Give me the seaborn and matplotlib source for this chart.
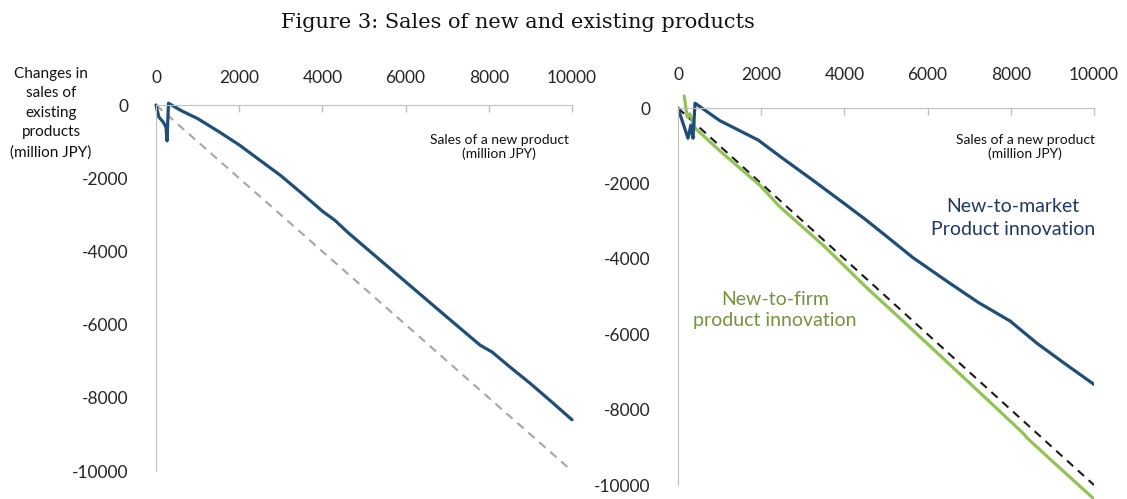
import numpy as np
import pandas as pd
import matplotlib
matplotlib.use("Agg")
import matplotlib.pyplot as plt
import seaborn as sns

# ---------------- data ----------------
# Left panel: all product innovation
left_x = [0, 70, 170, 240, 265, 300, 600, 1000, 1500, 2000, 2500, 3000, 3460,
          4000, 4300, 4600, 5000, 6000, 7000, 7790, 8080, 8500, 9000, 9500, 10000]
left_y = [0, -330, -460, -600, -980, 50, -150, -370, -720, -1090, -1510, -1930, -2370,
          -2900, -3150, -3470, -3860, -4830, -5800, -6560, -6750, -7150, -7610, -8100, -8600]

# Right panel: new-to-market product innovation
market_x = [0, 240, 310, 360, 410, 1000, 1930, 2500, 3250, 3970, 4500, 5000, 5650,
            6500, 7210, 8000, 8050, 8630, 9300, 10000]
market_y = [0, -800, -450, -800, 130, -330, -850, -1320, -1920, -2510, -2950, -3390, -3970,
            -4620, -5150, -5660, -5710, -6240, -6780, -7330]

# Right panel: new-to-firm product innovation
firm_x = [150, 220, 280, 340, 410, 1000, 1970, 2450, 3500, 4540, 5340, 6500, 7500,
          8290, 8400, 9000, 10000]
firm_y = [320, -240, -150, -320, -530, -1130, -2050, -2620, -3650, -4770, -5580, -6770, -7800,
          -8620, -8760, -9370, -10370]

# 45-degree reference line (one-for-one replacement)
ref_x = [0, 10000]
ref_y = [0, -10000]

x_ticks = [0, 2000, 4000, 6000, 8000, 10000]
y_ticks = [-10000, -8000, -6000, -4000, -2000, 0]

title = "Figure 3: Sales of new and existing products"
ylabel_text = "Changes in\nsales of\nexisting\nproducts\n(million JPY)"
xlabel_text = "Sales of a new product\n(million JPY)"
market_label = "New-to-market\nProduct innovation"
firm_label = "New-to-firm\nproduct innovation"

# ---------------- style ----------------
sns.set_style("white")
plt.rcParams["font.family"] = ["Lato", "DejaVu Sans"]

BLUE = "#1f4e79"
GREEN = "#92c353"
GREEN_TEXT = "#76923c"
NAVY_TEXT = "#1f3864"
SPINE = "#bfbfbf"
TICKTXT = "#262626"

W, H = 1127, 499
fig = plt.figure(figsize=(W / 100, H / 100), dpi=100)

axL = fig.add_axes([156 / W, 1 - 482 / H, 416 / W, (482 - 97.7) / H])
axR = fig.add_axes([678 / W, 0.0, 416 / W, (499 - 93) / H])

df_left = pd.DataFrame({"x": left_x, "y": left_y})
df_market = pd.DataFrame({"x": market_x, "y": market_y})
df_firm = pd.DataFrame({"x": firm_x, "y": firm_y})
df_ref = pd.DataFrame({"x": ref_x, "y": ref_y})

# Left panel
sns.lineplot(data=df_ref, x="x", y="y", ax=axL, color="#a6a6a6", lw=1.5,
             linestyle=(0, (4, 3)), sort=False, estimator=None)
sns.lineplot(data=df_left, x="x", y="y", ax=axL, color=BLUE, lw=2.3,
             sort=False, estimator=None)

# Right panel
sns.lineplot(data=df_ref, x="x", y="y", ax=axR, color="#1a1a1a", lw=1.5,
             linestyle=(0, (4, 3)), sort=False, estimator=None)
sns.lineplot(data=df_firm, x="x", y="y", ax=axR, color=GREEN, lw=2.3,
             sort=False, estimator=None)
sns.lineplot(data=df_market, x="x", y="y", ax=axR, color=BLUE, lw=2.3,
             sort=False, estimator=None)

for ax, ylim, xpad in ((axL, (-10300, 200), 14), (axR, (-10370, 400), 18)):
    ax.set_xlim(0, 10000)
    ax.set_ylim(*ylim)
    ax.set_xlabel("")
    ax.set_ylabel("")
    ax.set_xticks(x_ticks)
    ax.set_xticklabels([str(v) for v in x_ticks])
    ax.set_yticks(y_ticks)
    ax.set_yticklabels([str(v) for v in y_ticks])
    ax.spines["right"].set_visible(False)
    ax.spines["bottom"].set_visible(False)
    ax.spines["top"].set_position(("data", 0))
    ax.spines["top"].set_color(SPINE)
    ax.spines["left"].set_color(SPINE)
    ax.spines["left"].set_bounds(-10000, 0)
    ax.xaxis.tick_top()
    ax.tick_params(axis="x", direction="in", length=5, width=1, color=SPINE,
                   labelcolor=TICKTXT, labelsize=12.5, pad=xpad)
    ax.tick_params(axis="y", direction="out", length=4, width=1, color=SPINE,
                   labelcolor=TICKTXT, labelsize=12.5, pad=16)
    ax.grid(False)
    ax.patch.set_alpha(0)

for ln in axL.get_lines():
    ln.set_clip_on(False)

# Texts
fig.text(518 / W, 1 - 22 / H, title, family="DejaVu Serif", fontsize=15,
         ha="center", va="center", color="#111111")
fig.text(51 / W, 1 - 113 / H, ylabel_text, fontsize=11, ha="center", va="center",
         color="#111111", linespacing=1.5)
fig.text(499 / W, 1 - 147 / H, xlabel_text, fontsize=10, ha="center", va="center",
         color="#111111", linespacing=1.2)
fig.text(1025 / W, 1 - 147 / H, xlabel_text, fontsize=10, ha="center", va="center",
         color="#111111", linespacing=1.2)
fig.text(1013 / W, 1 - 218 / H, market_label, fontsize=14, ha="center", va="center",
         color=NAVY_TEXT, linespacing=1.4)
fig.text(775 / W, 1 - 310 / H, firm_label, fontsize=14, ha="center", va="center",
         color=GREEN_TEXT, linespacing=1.35)

fig.savefig("out.png", dpi=100)
